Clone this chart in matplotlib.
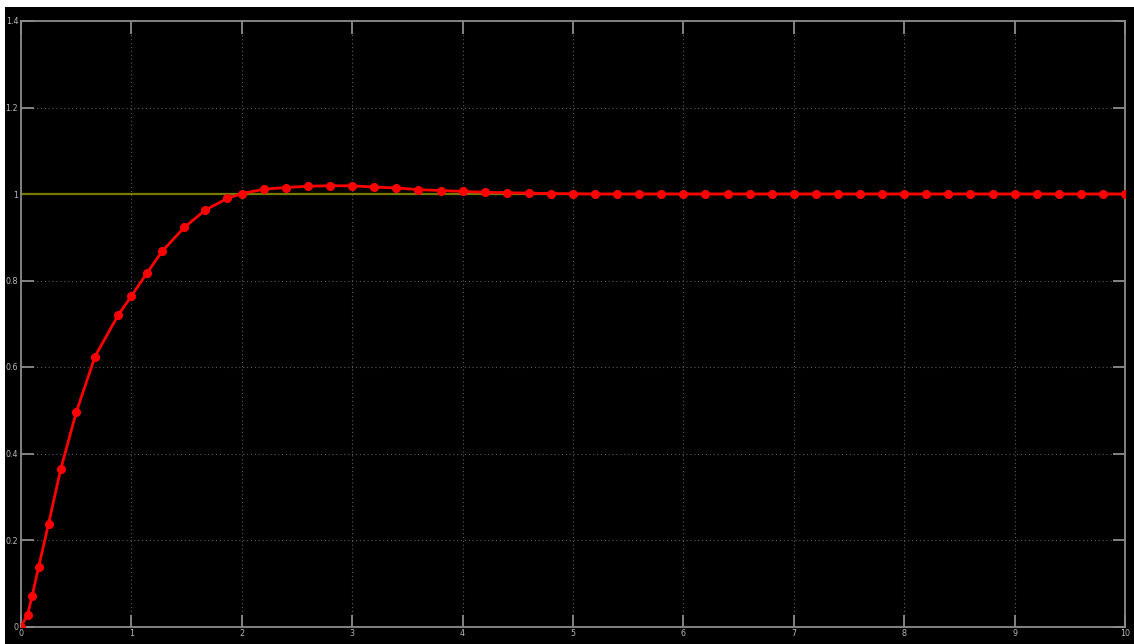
import numpy as np
import matplotlib
matplotlib.use("Agg")
import matplotlib.pyplot as plt
from matplotlib.patches import Rectangle

# step response samples (solver output, variable step at start)
t = [0.0, 0.06, 0.1, 0.16, 0.25, 0.36, 0.5, 0.67, 0.88, 1.0,
     1.14, 1.28, 1.48, 1.67, 1.87, 2.0, 2.2, 2.4, 2.6, 2.8,
     3.0, 3.2, 3.4, 3.6, 3.8, 4.0, 4.2, 4.4, 4.6, 4.8,
     5.0, 5.2, 5.4, 5.6, 5.8, 6.0, 6.2, 6.4, 6.6, 6.8,
     7.0, 7.2, 7.4, 7.6, 7.8, 8.0, 8.2, 8.4, 8.6, 8.8,
     9.0, 9.2, 9.4, 9.6, 9.8, 10.0]
y = [0.0, 0.027, 0.070, 0.138, 0.238, 0.364, 0.495, 0.624, 0.720, 0.764,
     0.817, 0.868, 0.923, 0.963, 0.990, 1.001, 1.011, 1.015, 1.018, 1.019,
     1.019, 1.016, 1.014, 1.010, 1.008, 1.006, 1.004, 1.003, 1.002, 1.001,
     1.0005, 1.0, 1.0, 1.0, 1.0, 1.0, 1.0, 1.0, 1.0, 1.0,
     1.0, 1.0, 1.0, 1.0, 1.0, 1.0, 1.0, 1.0, 1.0, 1.0,
     1.0, 1.0, 1.0, 1.0, 1.0, 1.0]

# reference (setpoint)
ref_t = [0.0, 10.0]
ref_y = [1.0, 1.0]

xticks = [0, 1, 2, 3, 4, 5, 6, 7, 8, 9, 10]
yticks = [0, 0.2, 0.4, 0.6, 0.8, 1.0, 1.2, 1.4]
ytick_labels = ["0", "0.2", "0.4", "0.6", "0.8", "1", "1.2", "1.4"]

W, H = 1134, 644
fig = plt.figure(figsize=(W / 100, H / 100), dpi=100, facecolor="black")
# white margin strips of the scope window
fig.patches.append(Rectangle((0, 1 - 7 / H), 1, 7 / H, transform=fig.transFigure,
                             facecolor="white", edgecolor="none", zorder=-1))
fig.patches.append(Rectangle((0, 0), 5 / W, 1, transform=fig.transFigure,
                             facecolor="white", edgecolor="none", zorder=-1))

ax = fig.add_axes([21 / W, 17.5 / H, 1104 / W, 605.5 / H])
ax.set_facecolor("black")

ax.plot(ref_t, ref_y, color="#7a7a00", lw=1.6, zorder=2)
ax.plot(t, y, color="#ff0000", lw=2.0, marker="o", ms=5.5,
        markerfacecolor="#ff0000", markeredgecolor="#ff0000", zorder=3)

ax.set_xlim(0, 10)
ax.set_ylim(0, 1.4)
ax.set_xticks(xticks)
ax.set_xticklabels([str(v) for v in xticks])
ax.set_yticks(yticks)
ax.set_yticklabels(ytick_labels)

ax.grid(True, color="#5a5a5a", lw=0.8, linestyle=(0, (1, 2.5)))
ax.tick_params(direction="in", length=9, width=1.3, color="#8c8c8c",
               labelcolor="#b8b8b8", labelsize=5.8, pad=2,
               top=True, right=True)
for s in ax.spines.values():
    s.set_color("#8c8c8c")
    s.set_linewidth(1.3)

fig.savefig("out.png", dpi=100, facecolor="black")
